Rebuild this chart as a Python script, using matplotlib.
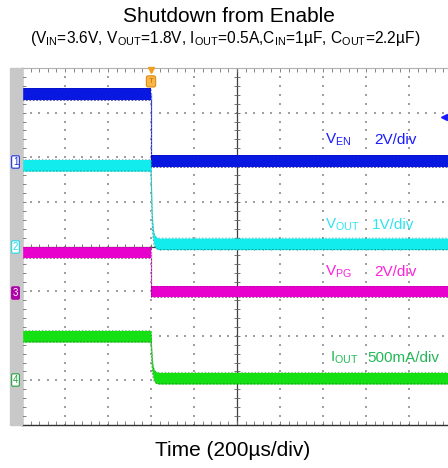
import numpy as np
import matplotlib
matplotlib.use("Agg")
import matplotlib.pyplot as plt
from matplotlib.patches import Rectangle

plt.rcParams["font.family"] = ["Liberation Sans", "DejaVu Sans"]
plt.rcParams["mathtext.fontset"] = "custom"
plt.rcParams["mathtext.rm"] = "Liberation Sans"
plt.rcParams["mathtext.it"] = "Liberation Sans"

# ---------- data (time in us, 200us/div) ----------
US_PER_DIV = 200.0
TRIGGER_US = 600

ven_t = [0, 600, 600, 1990]
ven_v = [3.0, 3.0, 0.0, 0.0]

vout_t = [0, 600, 603, 606, 610, 615, 622, 635, 1990]
vout_v = [1.82, 1.82, 1.1, 0.6, 0.3, 0.15, 0.09, 0.06, 0.06]

vpg_t = [0, 600, 600, 1990]
vpg_v = [1.8, 1.8, 0.05, 0.05]

iout_t = [0, 600, 603, 606, 610, 615, 622, 635, 1990]
iout_a = [0.49, 0.49, 0.3, 0.17, 0.09, 0.05, 0.03, 0.02, 0.02]

channels = ["1", "2", "3", "4"]
scales = [2.0, 1.0, 2.0, 0.5]          # units per division
offsets = [5.92, 4.0, 2.97, 1.01]      # ground position in divisions
band_colors = ["#0818e0", "#12ecec", "#e800cc", "#14e014"]
edge_colors = ["#000070", "#007070", "#700060", "#106010"]
edge_light = ["#8090ff", "#a0f8f8", "#f090e8", "#a0f0a0"]
label_colors = ["#1a1aff", "#30e4ee", "#ff20dc", "#22b855"]
labels = [(r"V$_{\rm EN}$", "2V/div"), (r"V$_{\rm OUT}$", "1V/div"),
          (r"V$_{\rm PG}$", "2V/div"), (r"I$_{\rm OUT}$", "500mA/div")]

traces = [(ven_t, ven_v), (vout_t, vout_v), (vpg_t, vpg_v), (iout_t, iout_a)]

W, H = 448, 468
fig = plt.figure(figsize=(W / 100, H / 100), dpi=100)


def fx(px):
    return px / W


def fy(py):
    return 1 - py / H


left, top, bottom = 22, 68, 425
ax = fig.add_axes([fx(left), fy(bottom), (W - left) / W, (bottom - top) / H])
div_px = 43.0
ax.set_xlim(0, (W - left) / div_px)
ax.set_ylim(0, 8)

# grey strip on the left of the screen
fig.patches.append(Rectangle((fx(10), fy(bottom)), fx(12), (bottom - top) / H,
                             transform=fig.transFigure, color="#c8c8c8", zorder=0))

# graticule
for s in ["left", "bottom"]:
    ax.spines[s].set_color("#303030")
    ax.spines[s].set_linewidth(1.0)
ax.spines["top"].set_color("#b0b0b0")
ax.spines["right"].set_visible(False)
ax.set_xticks(np.arange(0, 10, 1))
ax.set_yticks(np.arange(0, 9, 1))
ax.set_xticks(np.arange(0, 10, 0.2), minor=True)
ax.set_yticks(np.arange(0, 8.01, 0.2), minor=True)
ax.tick_params(which="both", direction="in", length=3, width=0.6, color="#707070",
               top=True, labelbottom=False, labelleft=False)

minor = np.arange(0, 10, 0.2)
minor_y = np.arange(0, 8.01, 0.2)
for k in range(1, 10):
    if k == 5:
        continue
    ax.scatter(np.full(len(minor_y), k), minor_y, s=0.8, marker="s", color="#a0a0a0", lw=0, zorder=1)
for m in range(1, 8):
    if m == 4:
        continue
    ax.scatter(minor, np.full(len(minor), m), s=0.8, marker="s", color="#a0a0a0", lw=0, zorder=1)
ax.axvline(5, color="#404040", lw=0.9, zorder=1)
ax.axhline(4, color="#404040", lw=0.9, zorder=1)
ax.plot(np.full(len(minor_y), 5), minor_y, ls="none", marker="_", ms=5, mew=0.6, color="#606060", zorder=1)
ax.plot(minor, np.full(len(minor), 4), ls="none", marker="|", ms=5, mew=0.6, color="#606060", zorder=1)

# traces
h = 0.13
for (t, v), sc, off, c, ec, lc in zip(traces, scales, offsets, band_colors, edge_colors, edge_light):
    x = np.array(t) / US_PER_DIV
    y = np.array(v) / sc + off
    ax.plot(x, y, color=lc, lw=1.0, zorder=2)
    ax.fill_between(x, y - h, y + h, color=c, lw=0, zorder=3)
    ax.plot(x, y + h, color=ec, lw=0.6, alpha=0.55, dashes=(1.5, 2.5), zorder=4)
    ax.plot(x, y - h, color=ec, lw=0.7, alpha=0.6, dashes=(2, 1.5), zorder=4)

# trigger marker
tx = TRIGGER_US / US_PER_DIV
ax.plot([tx], [7.96], marker="v", ms=5, color="#f0a020", clip_on=False, zorder=6)
ax.text(tx, 7.7, "T", fontsize=6, color="#d07000", ha="center", va="center", zorder=6,
        bbox=dict(boxstyle="round,pad=0.25", fc="#f8b848", ec="#e08810", lw=0.8))

# trigger level arrow at right
ax.plot([9.82], [6.9], marker="<", ms=5, color="#1a1aff", clip_on=False, zorder=6)
ax.plot([9.82, 9.95], [6.9, 6.9], color="#1a1aff", lw=1.2, clip_on=False, zorder=6)

# channel ground markers
mark_y = [162, 247, 293, 380]
mark_style = [("white", "#2030e0", "#2030e0"), ("white", "#20d8e8", "#20d8e8"),
              ("#b000a8", "#b000a8", "white"), ("white", "#20a040", "#20a040")]
for ch, my, (fc, ecol, tc) in zip(channels, mark_y, mark_style):
    fig.text(fx(15.5), fy(my), ch, fontsize=7, color=tc, ha="center", va="center",
             bbox=dict(boxstyle="round,pad=0.12", fc=fc, ec=ecol, lw=0.8))

# channel labels
label_y = [140, 225, 272, 358]
name_x = [325, 325, 325, 330]
scale_x = [374, 372, 374, 367]
for (nm, sc_txt), ly, nx, sx, col in zip(labels, label_y, name_x, scale_x, label_colors):
    fig.text(fx(nx), fy(ly), nm, fontsize=11, color=col, ha="left", va="center")
    fig.text(fx(sx), fy(ly), sc_txt, fontsize=11, color=col, ha="left", va="center")

# titles
fig.text(fx(229), fy(17), "Shutdown from Enable", fontsize=15, ha="center", va="center")
fig.text(fx(225), fy(39),
         r"(V$_{\rm IN}$=3.6V, V$_{\rm OUT}$=1.8V, I$_{\rm OUT}$=0.5A,C$_{\rm IN}$=1µF, C$_{\rm OUT}$=2.2µF)",
         fontsize=11.2, ha="center", va="center")
fig.text(fx(233), fy(451), "Time (200µs/div)", fontsize=15, ha="center", va="center")

fig.savefig("out.png", dpi=100)
